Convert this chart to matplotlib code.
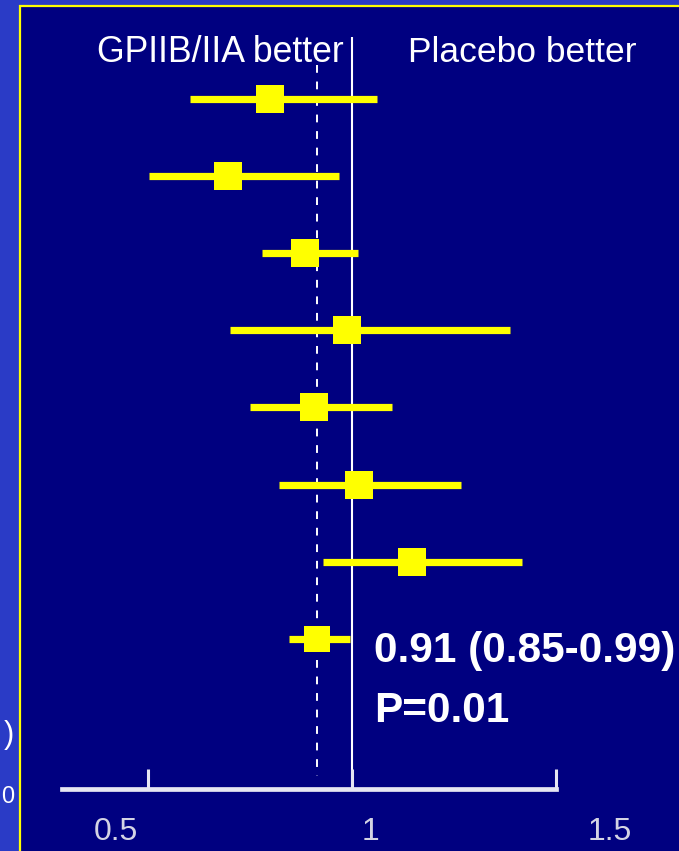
import matplotlib
matplotlib.use("Agg")
import matplotlib.pyplot as plt
from matplotlib.patches import Rectangle

# the slide used a narrow Arial; Liberation Sans at a smaller size keeps the widths
plt.rcParams['font.family'] = ['Liberation Sans Narrow', 'Liberation Sans', 'DejaVu Sans']

# odds ratios per trial (top to bottom) with 95% CI
odds_ratio = [0.800, 0.697, 0.886, 0.988, 0.907, 1.016, 1.148]
ci_low = [0.603, 0.503, 0.779, 0.701, 0.750, 0.822, 0.930]
ci_high = [1.062, 0.969, 1.014, 1.387, 1.097, 1.267, 1.416]

# pooled estimate
pooled_or = 0.914
pooled_low = 0.845
pooled_high = 0.995
pooled_text = "0.91 (0.85-0.99)"
p_text = "P=0.01"

xticks = [0.5, 1.0, 1.5]
xtick_labels = ["0.5", "1", "1.5"]

W, H = 679, 851
NAVY = '#000080'
YELLOW = '#ffff00'
OUTER = '#2a3bc6'
AXCOL = '#e6e6f2'


# helpers to go from picture pixels to data units
def xv(px):
    return 1 + (px - 352) / 408.0


def yr(py):
    return (py - 98.5) / 77.2


fig = plt.figure(figsize=(W / 100, H / 100), dpi=100, facecolor=OUTER)

# slide panel with yellow border
panel = Rectangle((20 / W, -0.05), 1.2, (H - 6) / H + 0.05, transform=fig.transFigure,
                  facecolor=NAVY, edgecolor=YELLOW, linewidth=1.6, zorder=0)
fig.add_artist(panel)

# bits of text from the slide behind, at the left edge
fig.text(4 / W, 1 - 735 / H, ")", color='white', fontsize=22, va='center', ha='left')
fig.text(1 / W, 1 - 797 / H, "0", color='white', fontsize=17, va='center', ha='left')

ax = fig.add_axes([0, (H - 789) / H, 1, 789 / H])
ax.set_facecolor('none')
ax.set_xlim(xv(0), xv(W))
ax.set_ylim(yr(789), yr(0))

rows = list(range(len(odds_ratio)))
pooled_row = len(odds_ratio)

# reference lines
ax.vlines(1.0, yr(37), yr(789), color='white', linewidth=1.5, zorder=1)
ax.vlines(pooled_or, yr(65), yr(776), color='white', linewidth=1.4,
          linestyles=(0, (4, 4.5)), zorder=1)

# trials
ax.hlines(rows, ci_low, ci_high, color=YELLOW, linewidth=5.2, capstyle='butt', zorder=2)
ax.plot(odds_ratio, rows, 's', color=YELLOW, markersize=20, markeredgewidth=0, zorder=3)

# pooled
ax.hlines(pooled_row, pooled_low, pooled_high, color=YELLOW, linewidth=5.2,
          capstyle='butt', zorder=2)
ax.plot(pooled_or, pooled_row, 's', color=YELLOW, markersize=18.5, markeredgewidth=0, zorder=3)

# axis
for s in ['top', 'right', 'left']:
    ax.spines[s].set_visible(False)
ax.spines['bottom'].set_color(AXCOL)
ax.spines['bottom'].set_linewidth(3.4)
ax.spines['bottom'].set_bounds(xv(62), 1.5)
ax.spines['bottom'].set_capstyle('projecting')
ax.set_yticks([])
ax.set_xticks(xticks)
ax.set_xticklabels([])
ax.tick_params(axis='x', direction='in', length=14.4, width=2.2, color=AXCOL)

# tick labels sit a bit off their ticks in the original slide
label_pos = [xv(116), xv(371), xv(610)]
for xp, lab in zip(label_pos, xtick_labels):
    ax.text(xp, yr(832), lab, color='#d4d4e4', fontsize=23, ha='center', va='center',
            clip_on=False)

# headers
ax.text(xv(97), yr(62), "GPIIB/IIA better", color='white', fontsize=25.7,
        ha='left', va='baseline')
ax.text(xv(408), yr(62), "Placebo better", color='white', fontsize=25.5,
        ha='left', va='baseline')

# pooled result text
ax.text(xv(374), yr(662), pooled_text, color='white', fontsize=30.5, fontweight='bold',
        ha='left', va='baseline', clip_on=False)
ax.text(xv(374), yr(722), p_text, color='white', fontsize=30.5, fontweight='bold',
        ha='left', va='baseline')

fig.savefig("out.png", dpi=100, facecolor=OUTER)
